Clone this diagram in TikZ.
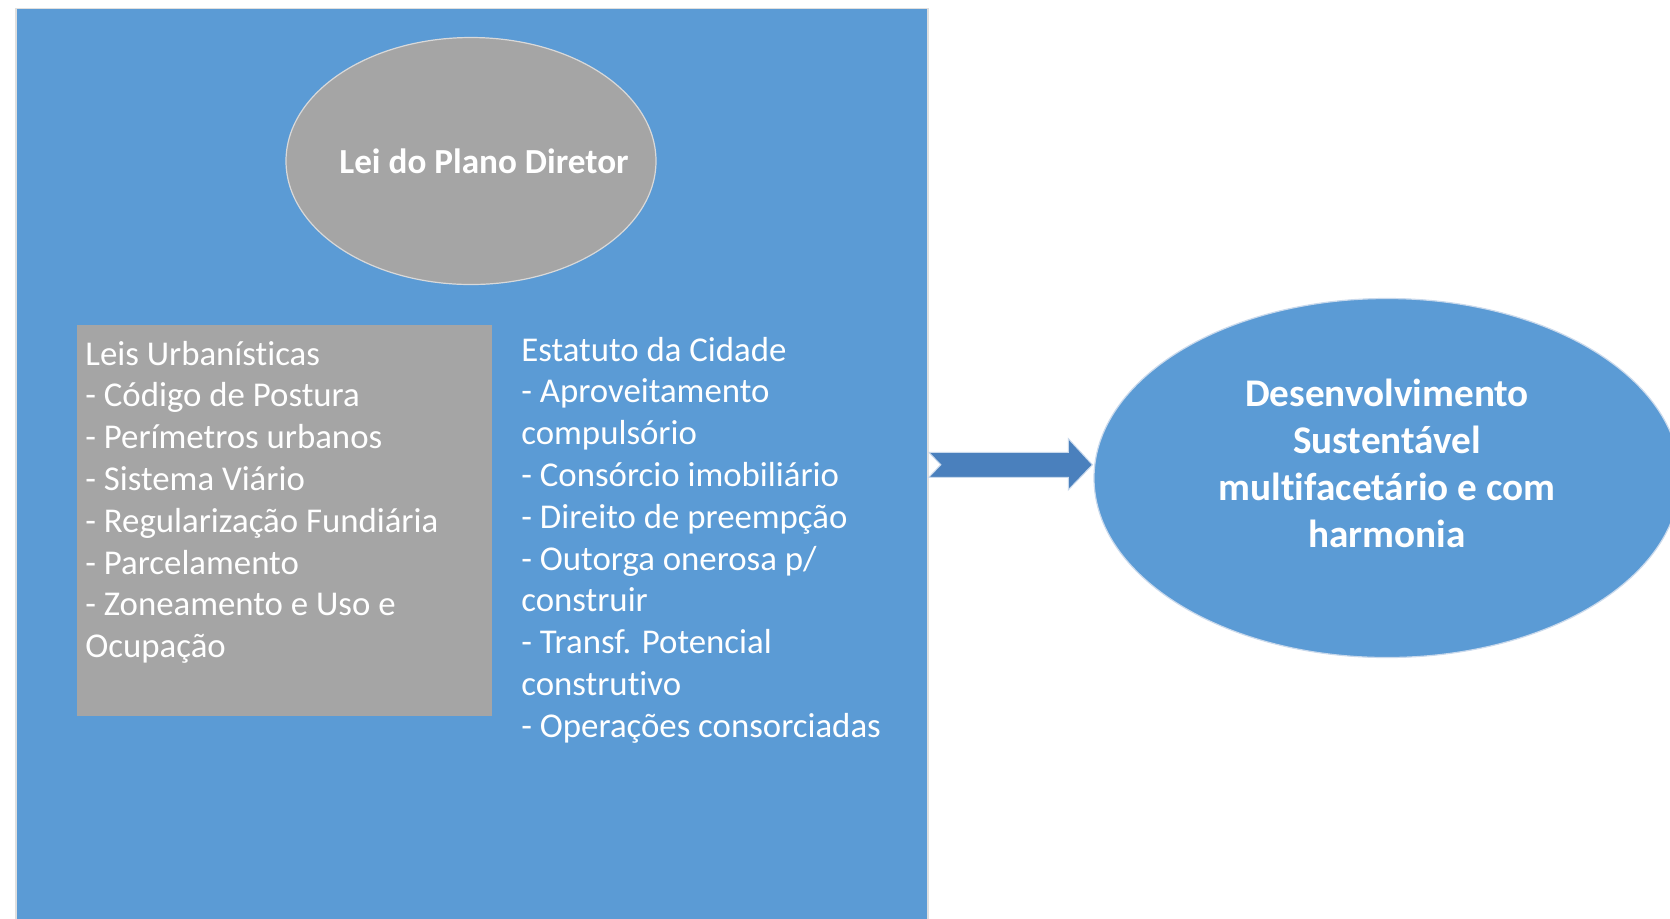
\documentclass[tikz,border=0pt]{standalone}
\usepackage{fontspec}
\setmainfont{Carlito}[Ligatures=NoCommon]
\usetikzlibrary{shapes.geometric,calc}
\definecolor{offblue}{HTML}{5B9BD5}
\definecolor{offgray}{HTML}{A5A5A5}
\definecolor{arrowblue}{HTML}{4A80BD}
\definecolor{edgelight}{HTML}{C9D9EC}
\tikzset{
  bodytext/.style={text=white, align=left, inner sep=0pt, anchor=north west,
    font=\fontsize{17.4}{20.9}\selectfont},
  boldtext/.style={text=white, inner sep=0pt,
    font=\bfseries\fontsize{17.6}{23.5}\selectfont},
}
\begin{document}
\begin{tikzpicture}[x=0.5pt,y=-0.5pt]
\useasboundingbox (0,0) rectangle (1670,918);
\clip (0,0) rectangle (1670,918);
\fill[white] (0,0) rectangle (1670,918);
% main panel
\node[draw=gray!25, line width=0.8pt, fill=offblue, minimum width=456pt, minimum height=458.25pt, inner sep=0pt] (panel) at (472,466.75) {};
% gray ellipse
\node[ellipse, draw=gray!30, line width=0.6pt, fill=offgray, minimum width=185pt, minimum height=123.5pt, inner sep=0pt] (plano) at (471,161) {};
\node[boldtext] (planotxt) at (484,161) {Lei do Plano Diretor};
% gray rectangle
\node[fill=offgray, minimum width=207.5pt, minimum height=195.5pt, inner sep=0pt] (leisbox) at (284.5,520.5) {};
\node[bodytext] (leis) at (85,340.5) {Leis Urbanísticas\\- Código de Postura\\- Perímetros urbanos\\- Sistema Viário\\- Regularização Fundiária\\- Parcelamento\\- Zoneamento e Uso e\\Ocupação};
% estatuto text
\node[bodytext] (estatuto) at (521,336.5) {Estatuto da Cidade\\- Aproveitamento\\compulsório\\- Consórcio imobiliário\\- Direito de preempção\\- Outorga onerosa p/\\construir\\- Transf. Potencial\\construtivo\\- Operações consorciadas};
% goal ellipse
\node[ellipse, draw=edgelight, line width=0.6pt, fill=offblue, minimum width=293pt, minimum height=179.5pt, inner sep=0pt] (goal) at (1387,478) {};
\node[boldtext, align=center, anchor=center, font=\bfseries\fontsize{19.6}{23.5}\selectfont] (goaltxt) at (1387,463.3) {Desenvolvimento\\Sustentável\\multifacetário e com\\harmonia};
% notched arrow from panel to goal
\coordinate (tail) at ($(panel.east)+(0,-2)$);
\coordinate (tip) at ($(goal.west |- tail)+(-1,0)$);
\fill[arrowblue, draw=edgelight, line width=0.5pt]
  (tail) ++(0,-12.5) -- ($(tip)+(-24,-12.5)$) -- ($(tip)+(-24,-26)$) -- (tip)
  -- ($(tip)+(-24,25)$) -- ($(tip)+(-24,12.5)$) -- ($(tail)+(0,12.5)$)
  -- ($(tail)+(12,0)$) -- cycle;
\end{tikzpicture}
\end{document}
